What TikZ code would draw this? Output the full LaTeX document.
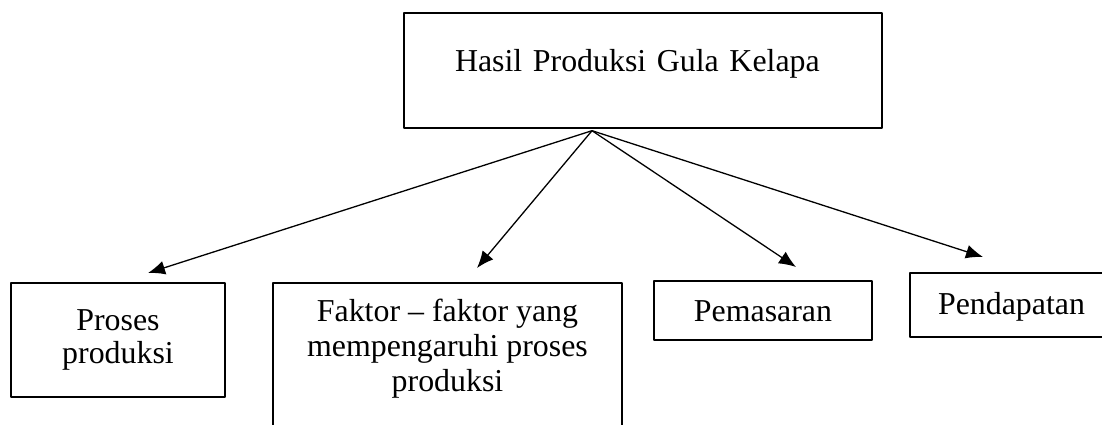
\documentclass[tikz,border=0pt]{standalone}
\usepackage{fontspec}
\setmainfont{Liberation Serif}
\usetikzlibrary{arrows.meta}
\usetikzlibrary{shapes}

\tikzset{
  kotak/.style={draw,rectangle,line width=2.4bp,inner sep=0pt,align=center,
    font=\fontsize{32}{35}\selectfont},
  panah/.style={black,line width=1.3bp,->},
}

\begin{document}
\begin{tikzpicture}[>={Latex[length=17bp,width=14bp]},line join=bevel,]
\clip (0bp,0bp) rectangle (1102bp,425bp);
%%
\node (node_hasil) at (643bp,354.5bp) [kotak,minimum width=478bp,minimum height=115bp,text width=376bp,align=left,text height=22pt,text depth=19pt] {Hasil Produksi Gula Kelapa};
  \node (node_proses) at (118bp,85bp) [kotak,minimum width=214bp,minimum height=114bp,font=\fontsize{32}{33}\selectfont] {Proses\\produksi};
  \node (node_faktor) at (447.5bp,143bp) [kotak,anchor=north,minimum width=349bp,inner ysep=16bp,text depth=100pt] {Faktor – faktor yang\\mempengaruhi proses\\produksi};
  \node (node_pemasaran) at (763bp,114.5bp) [kotak,minimum width=218bp,minimum height=59bp,text height=29pt,text depth=7pt] {Pemasaran};
  \node (node_pendapatan) at (1011.5bp,120bp) [kotak,minimum width=203bp,minimum height=64bp,text height=27pt,text depth=7pt] {Pendapatan};
  \coordinate (node_src) at ([xshift=-51bp,yshift=-1.5bp]node_hasil.south);
  \coordinate (tip_proses) at (148bp,152bp);
  \coordinate (tip_faktor) at (477bp,157bp);
  \coordinate (tip_pemasaran) at (796bp,158bp);
  \coordinate (tip_pendapatan) at (983bp,168bp);
  \draw [panah] (node_src) -- (tip_proses);
  \draw [panah] (node_src) -- (tip_faktor);
  \draw [panah] (node_src) -- (tip_pemasaran);
  \draw [panah] (node_src) -- (tip_pendapatan);
%
\end{tikzpicture}
\end{document}
